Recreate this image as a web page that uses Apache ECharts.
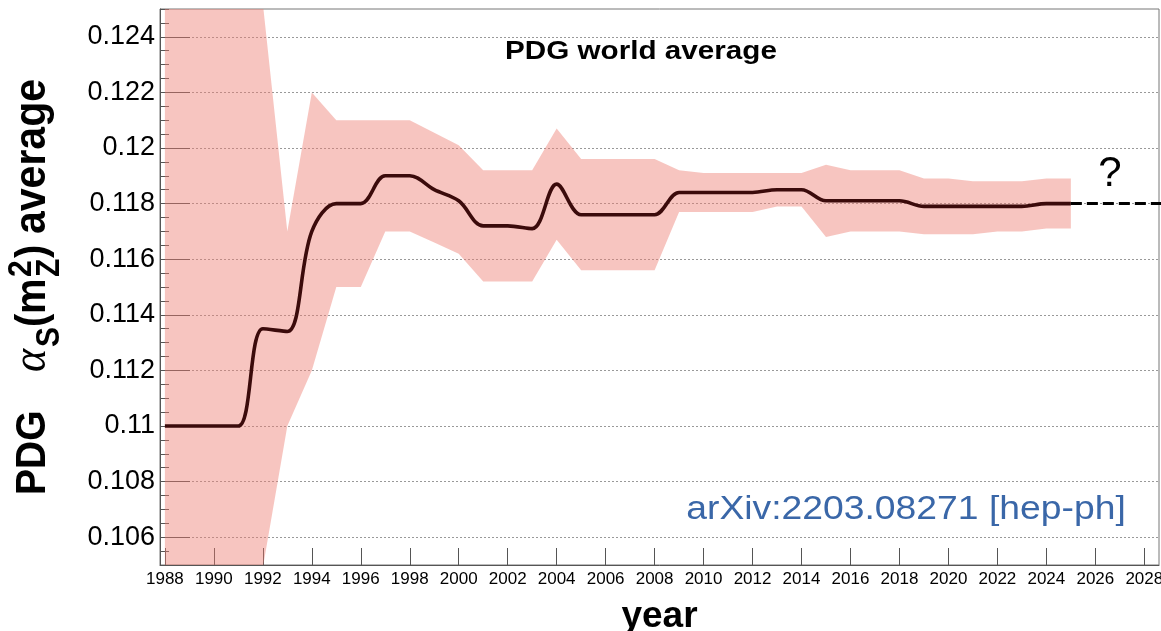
<!DOCTYPE html>
<html><head><meta charset="utf-8">
<script src="https://cdn.jsdelivr.net/npm/echarts@6/dist/echarts.min.js"></script>
<style>html,body{margin:0;padding:0;background:#fff}#c{width:1161px;height:631px}</style>
</head><body><div id="c"></div>
<script>
// ---- data ----
const years = [1988,1989,1990,1991,1992,1993,1994,1995,1996,1997,1998,1999,2000,2001,2002,2003,2004,2005,2006,2007,2008,2009,2010,2011,2012,2013,2014,2015,2016,2017,2018,2019,2020,2021,2022,2023,2024,2025];
const central = [0.1100,0.1100,0.1100,0.1100,0.1135,0.1134,0.1170,0.1180,0.1180,0.1190,0.1190,0.1185,0.1181,0.1172,0.1172,0.1171,0.1187,0.1176,0.1176,0.1176,0.1176,0.1184,0.1184,0.1184,0.1184,0.1185,0.1185,0.1181,0.1181,0.1181,0.1181,0.1179,0.1179,0.1179,0.1179,0.1179,0.1180,0.1180];
const lower = [0.0950,0.0950,0.0950,0.0950,0.1049,0.1100,0.1120,0.1150,0.1150,0.1170,0.1170,0.1166,0.1162,0.1152,0.1152,0.1152,0.1167,0.1156,0.1156,0.1156,0.1156,0.1177,0.1177,0.1177,0.1177,0.1179,0.1179,0.1168,0.1170,0.1170,0.1170,0.1169,0.1169,0.1169,0.1170,0.1170,0.1171,0.1171];
const upper = [0.1300,0.1300,0.1300,0.1300,0.1252,0.1170,0.1220,0.1210,0.1210,0.1210,0.1210,0.12055,0.1201,0.1192,0.1192,0.1192,0.1207,0.1196,0.1196,0.1196,0.1196,0.1192,0.1191,0.1191,0.1191,0.1191,0.1191,0.1194,0.1192,0.1192,0.1192,0.1189,0.1189,0.1188,0.1188,0.1188,0.1189,0.1189];
const outlookYears = [2025, 2029];
const outlookValues = [0.1180, 0.1180];
const xTickYears = [1988,1990,1992,1994,1996,1998,2000,2002,2004,2006,2008,2010,2012,2014,2016,2018,2020,2022,2024,2026,2028];
const yTickValues = [0.106,0.108,0.110,0.112,0.114,0.116,0.118,0.120,0.122,0.124];

const FONT = '"Liberation Sans", Arial, Helvetica, sans-serif';
const SERIF = '"Liberation Serif", "Times New Roman", serif';
const BAND = 'rgba(236,122,112,0.44)';

// y-axis title pieces (rotated group, positions along the text direction)
const yTitle = [];
function addT(text, x, y, size, weight, family, style){
  yTitle.push({type:'text', x, y, style:{text, fontSize:size, fontWeight:weight, fontFamily:family, fontStyle:style||'normal', fill:'#000', align:'left', verticalAlign:'middle'}});
}
const subY = 16, supY = -10;
addT('PDG', 0, 0, 39, 'bold', FONT);
addT('α', 123, 0, 44, 'normal', SERIF, 'italic');
addT('S', 148, subY, 30, 'bold', FONT);
addT('(', 168, 0, 40, 'bold', FONT);
addT('m', 181, 0, 40, 'bold', FONT);
addT('2', 218, supY, 30, 'bold', FONT);
addT('Z', 218, subY, 30, 'bold', FONT);
addT(')', 237, 0, 40, 'bold', FONT);
addT('average', 261, 0, 41, 'bold', FONT);

const chart = echarts.init(document.getElementById('c'), null, {renderer:'canvas', width:1161, height:631});
chart.setOption({
  animation:false,
  backgroundColor:'#fff',
  grid:{left:160, right:2, top:9, bottom:66, show:true, borderColor:'#777', borderWidth:1, containLabel:false, outerBoundsMode:'none'},
  xAxis:{
    type:'value', min:1987.8, max:2028.6,
    name:'year', nameLocation:'middle', nameGap:33,
    nameTextStyle:{fontFamily:FONT, fontWeight:'bold', fontSize:37, color:'#000'},
    axisLine:{show:true, lineStyle:{color:'#555', width:1}},
    axisTick:{show:true, inside:true, length:17, customValues:xTickYears, lineStyle:{color:'#555', width:1}},
    axisLabel:{customValues:xTickYears, margin:6, fontFamily:FONT, fontSize:17, color:'#000', formatter: v => String(v)},
    splitLine:{show:false}
  },
  yAxis:[{
    type:'value', min:0.105, max:0.125, position:'left',
    axisLine:{show:true, lineStyle:{color:'#555', width:1}},
    axisTick:{show:true, inside:true, length:30, customValues:yTickValues, lineStyle:{color:'#555', width:1}},
    axisLabel:{customValues:yTickValues, margin:5, fontFamily:FONT, fontSize:27, color:'#000', formatter: v => String(+v.toFixed(3))},
    splitLine:{show:true, lineStyle:{color:'#999', width:1, type:[2,2]}}
  },{
    type:'value', min:0.105, max:0.125, interval:0.0005, position:'left', offset:0,
    axisLine:{show:false},
    axisTick:{show:true, inside:true, length:9, lineStyle:{color:'#555', width:1}},
    axisLabel:{show:false}, splitLine:{show:false}
  }],
  series:[
    {type:'custom', name:'band', silent:true, clip:true,
     data: years.map((y,i)=>[y, lower[i], upper[i]]),
     encode:{x:0, y:[1,2]},
     renderItem:(params, api) => {
       if (params.dataIndex !== 0) return null;
       const pts = [];
       for (let i=0;i<years.length;i++) pts.push(api.coord([years[i], upper[i]]));
       for (let i=years.length-1;i>=0;i--) pts.push(api.coord([years[i], lower[i]]));
       const cs = params.coordSys;
       return {type:'polygon', shape:{points:pts}, style:{fill:BAND},
               clipPath:{type:'rect', shape:{x:cs.x, y:cs.y, width:cs.width, height:cs.height}}};
     }},
    {type:'line', name:'PDG average', symbol:'none', smooth:0.35, z:3,
     data: years.map((y,i)=>[y, central[i]]), lineStyle:{color:'#3b0b0b', width:3.6}},
    {type:'line', name:'outlook', symbol:'none', z:3,
     data: outlookYears.map((y,i)=>[y, outlookValues[i]]), lineStyle:{color:'#000', width:3, type:[11,5]}}
  ],
  graphic:[
    {type:'text', x:641, y:52, scaleX:1.14, style:{text:'PDG world average', fontFamily:FONT, fontWeight:'bold', fontSize:26, fill:'#000', align:'center', verticalAlign:'middle'}},
    {type:'text', x:906, y:510, scaleX:1.13, style:{text:'arXiv:2203.08271 [hep-ph]', fontFamily:FONT, fontSize:33, fill:'#3a67a8', align:'center', verticalAlign:'middle'}},
    {type:'text', x:1110, y:174, style:{text:'?', fontFamily:FONT, fontSize:42, fill:'#000', align:'center', verticalAlign:'middle'}},
    {type:'group', x:33, y:495, rotation:Math.PI/2, scaleY:1.08, children:yTitle}
  ]
});
</script>
</body></html>
